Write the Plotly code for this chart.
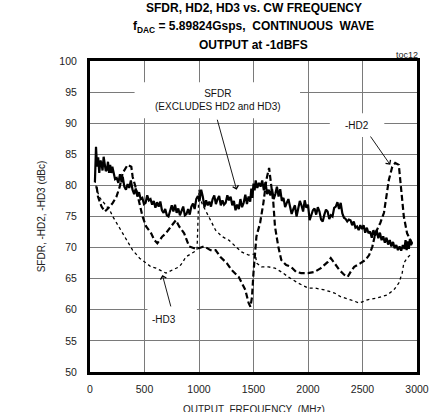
import plotly.graph_objects as go

# ---------------- data ----------------
sfdr_freq = [45, 55, 65, 75, 85, 95, 105, 115, 125, 135, 145, 155, 165, 175, 185, 195, 205, 215,
             230, 245, 260, 275, 290, 300, 315, 330, 345, 360, 375, 390, 405, 420, 435, 450, 465,
             480, 495, 510, 525, 540, 555, 570, 585, 600, 615, 630, 645, 660, 675, 690, 705, 720,
             735, 750, 765, 780, 795, 810, 825, 840, 855, 870, 885, 900, 915, 930, 945, 960, 975,
             990, 1005, 1020, 1035, 1050, 1065, 1080, 1095, 1110, 1125, 1140, 1155, 1170, 1185,
             1200, 1215, 1230, 1245, 1260, 1275, 1290, 1305, 1320, 1335, 1350, 1365, 1380, 1395,
             1410, 1425, 1440, 1455, 1470, 1480, 1490, 1500, 1510, 1520, 1535, 1550, 1565, 1580,
             1595, 1610, 1625, 1640, 1655, 1670, 1685, 1700, 1715, 1730, 1745, 1760, 1775, 1790,
             1805, 1820, 1835, 1850, 1865, 1880, 1895, 1910, 1925, 1940, 1955, 1970, 1985, 2000,
             2015, 2030, 2045, 2060, 2075, 2090, 2105, 2120, 2135, 2150, 2165, 2180, 2195, 2210,
             2225, 2240, 2255, 2270, 2285, 2300, 2315, 2330, 2345, 2360, 2375, 2390, 2405, 2420,
             2435, 2450, 2465, 2480, 2495, 2510, 2525, 2540, 2555, 2570, 2585, 2600, 2615, 2630,
             2645, 2660, 2675, 2690, 2705, 2720, 2735, 2750, 2765, 2780, 2795, 2810, 2825, 2840,
             2855, 2870, 2885, 2895, 2905, 2915, 2925, 2935, 2945, 2955]
sfdr_db = [80.5, 86.2, 83.0, 84.5, 82.0, 84.0, 83.6, 82.4, 84.6, 83.6, 82.3, 82.5, 83.8, 82.0, 83.3,
           82.0, 83.0, 82.2, 81.0, 81.2, 80.4, 81.8, 80.5, 81.4, 79.8, 79.3, 80.2, 79.6, 80.8, 79.3,
           78.6, 79.5, 78.2, 78.9, 77.8, 78.0, 77.0, 77.2, 78.4, 77.6, 77.8, 76.9, 77.5, 76.4, 77.3,
           76.6, 77.4, 76.0, 75.6, 76.2, 75.2, 75.0, 76.0, 76.8, 75.8, 76.9, 75.6, 76.3, 75.2, 75.8,
           76.6, 75.2, 75.4, 76.2, 75.3, 76.6, 77.1, 76.2, 77.8, 78.3, 77.5, 79.3, 78.2, 76.5, 77.6,
           76.8, 77.4, 76.6, 77.8, 78.4, 77.0, 77.8, 78.3, 76.8, 77.6, 76.9, 77.2, 78.4, 77.6, 78.2,
           76.8, 77.5, 76.0, 76.9, 76.2, 77.8, 76.5, 77.2, 78.5, 77.0, 78.2, 77.4, 79.5, 78.0, 80.3,
           79.2, 80.8, 79.6, 80.4, 79.8, 80.8, 79.2, 80.5, 78.6, 79.3, 78.4, 79.4, 77.8, 78.6, 79.8,
           78.2, 79.4, 77.5, 78.0, 76.5, 77.2, 77.8, 76.6, 75.4, 76.2, 76.8, 75.0, 76.2, 77.5, 76.8,
           75.8, 77.6, 76.4, 76.9, 74.4, 75.2, 76.0, 76.3, 75.3, 76.5, 75.8, 74.5, 74.2, 75.3, 76.1,
           75.8, 74.6, 75.2, 75.0, 76.4, 76.6, 77.3, 76.2, 77.2, 75.5, 74.8, 74.6, 74.2, 74.5, 74.4,
           73.6, 74.2, 73.2, 73.4, 72.8, 73.6, 73.0, 73.6, 72.4, 73.2, 72.3, 72.6, 71.6, 72.8, 71.9,
           72.8, 71.5, 72.4, 71.2, 71.8, 70.8, 71.6, 70.5, 71.2, 70.2, 70.9, 69.9, 70.4, 69.6, 70.2,
           69.5, 70.4, 69.8, 71.2, 69.6, 71.0, 69.8, 71.4, 70.4, 70.8]

hd2_freq = [61, 73, 106, 136, 182, 209, 243, 273, 300, 345, 379, 391, 425, 455, 482, 515, 561, 591,
            618, 664, 697, 743, 788, 818, 864, 909, 955, 1000, 1045, 1106, 1152, 1197, 1255, 1300,
            1364, 1425, 1455, 1472, 1486, 1500, 1515, 1527, 1561, 1591, 1618, 1643, 1664, 1682, 1697,
            1727, 1755, 1800, 1845, 1891, 1936, 2000, 2061, 2118, 2182, 2209, 2243, 2288, 2334, 2364,
            2391, 2424, 2482, 2527, 2561, 2591, 2618, 2664, 2697, 2709, 2742, 2773, 2800, 2833, 2845,
            2864, 2879, 2909, 2936, 2955]
hd2_db = [79.8, 78.2, 76.6, 75.8, 76.6, 77.2, 78.2, 79.8, 82.0, 83.3, 83.0, 81.4, 79.3, 77.2, 75.0,
          73.4, 72.3, 71.2, 70.7, 71.8, 72.3, 73.4, 74.4, 73.4, 72.3, 70.2, 69.9, 69.9, 70.2, 69.6,
          69.6, 68.5, 67.5, 66.4, 65.3, 63.2, 61.1, 60.5, 62.0, 66.0, 69.6, 71.8, 74.0, 77.2, 80.9,
          82.8, 79.8, 77.2, 73.4, 70.2, 68.0, 67.2, 66.9, 66.1, 65.9, 65.9, 66.1, 66.7, 67.7, 68.3,
          67.5, 66.4, 65.6, 65.3, 66.1, 66.9, 67.5, 68.0, 68.8, 70.2, 72.3, 74.0, 75.6, 77.2, 80.9,
          83.0, 83.6, 83.3, 80.9, 77.6, 75.0, 72.3, 71.2, 70.7]

hd3_freq = [45, 61, 91, 118, 152, 182, 209, 243, 288, 334, 391, 455, 515, 561, 606, 697, 755, 818,
            845, 879, 936, 982, 1000, 1008, 1030, 1061, 1106, 1152, 1209, 1273, 1334, 1391, 1455,
            1515, 1530, 1573, 1636, 1697, 1755, 1818, 1909, 2000, 2061, 2152, 2243, 2300, 2391, 2470,
            2545, 2636, 2727, 2788, 2833, 2864, 2879, 2909, 2936, 2955]
hd3_db = [80.9, 79.3, 78.0, 77.4, 76.8, 76.0, 75.0, 74.0, 72.6, 71.2, 69.6, 68.3, 67.5, 66.9, 66.7,
          65.9, 66.4, 66.9, 67.5, 68.5, 69.1, 69.6, 79.3, 78.0, 77.0, 76.0, 74.4, 72.8, 71.8, 71.2,
          70.2, 69.3, 68.8, 69.0, 67.5, 66.9, 66.9, 66.7, 66.1, 65.3, 64.3, 63.5, 63.5, 63.2, 62.7,
          62.1, 61.6, 61.1, 61.6, 61.9, 62.4, 63.2, 64.3, 65.9, 67.5, 68.3, 68.8, 69.1]

x_ticks = [0, 500, 1000, 1500, 2000, 2500, 3000]
y_ticks = [50, 55, 60, 65, 70, 75, 80, 85, 90, 95, 100]

FONT = "Liberation Sans, Arial, sans-serif"

fig = go.Figure()
fig.add_trace(go.Scatter(x=hd3_freq, y=hd3_db, mode="lines", name="-HD3",
                         line=dict(color="black", width=1.3, dash="dot")))
fig.add_trace(go.Scatter(x=hd2_freq, y=hd2_db, mode="lines", name="-HD2",
                         line=dict(color="black", width=2.2, dash="6px,3px")))
fig.add_trace(go.Scatter(x=sfdr_freq, y=sfdr_db, mode="lines", name="SFDR",
                         line=dict(color="black", width=2.2)))

# white boxes behind labels (hide gridlines)
boxes = [(409, 1927, 90.8, 96.6), (2200, 2700, 87.8, 91.6), (527, 982, 56.0, 61.9)]
for x0, x1, y0, y1 in boxes:
    fig.add_shape(type="rect", xref="x", yref="y", x0=x0, x1=x1, y0=y0, y1=y1,
                  fillcolor="white", line=dict(width=0), layer="above")

lab_font = dict(family=FONT, size=10, color="#111")
fig.add_annotation(x=1173, y=93.7, xref="x", yref="y", text="SFDR<br>(EXCLUDES HD2 and HD3)",
                   showarrow=False, font=lab_font)
fig.add_annotation(x=2445, y=89.7, xref="x", yref="y", text="-HD2", showarrow=False, font=lab_font)
fig.add_annotation(x=682, y=58.4, xref="x", yref="y", text="-HD3", showarrow=False, font=lab_font)

# arrows
arrows = [((1164, 90.8), (1345, 79.3)), ((2564, 88.1), (2755, 83.3)), ((745, 60.3), (664, 65.6))]
for (ax, ay), (tx, ty) in arrows:
    fig.add_annotation(x=tx, y=ty, ax=ax, ay=ay, xref="x", yref="y", axref="x", ayref="y",
                       text="", showarrow=True, arrowhead=4, arrowsize=1.3, arrowwidth=0.9,
                       arrowcolor="black")

# titles
tfont = dict(family=FONT, size=12, color="black")
titles = [("<b>SFDR, HD2, HD3 vs. CW FREQUENCY</b>", 8),
          ("<b>f<sub>DAC</sub> = 5.89824Gsps,  CONTINUOUS  WAVE</b>", 27),
          ("<b>OUTPUT at -1dBFS</b>", 45)]
for txt, py in titles:
    fig.add_annotation(x=0.5, y=1 + (61 - py) / 311, xref="paper", yref="paper", text=txt,
                       showarrow=False, font=tfont, xanchor="center", yanchor="middle")
fig.add_annotation(x=1.01, y=1 + (61 - 55) / 311, xref="paper", yref="paper", text="toc12",
                   showarrow=False, font=dict(family=FONT, size=9, color="#222"),
                   xanchor="right", yanchor="middle")
fig.add_annotation(x=0.5, y=-(409 - 372) / 311, xref="paper", yref="paper",
                   text="OUTPUT  FREQUENCY  (MHz)", showarrow=False,
                   font=dict(family=FONT, size=10, color="#222"), xanchor="center", yanchor="middle")

fig.update_layout(
    width=441, height=412,
    margin=dict(l=90, r=21, t=61, b=40),
    paper_bgcolor="white", plot_bgcolor="white",
    showlegend=False,
    font=dict(family=FONT, size=10, color="#222"),
)
fig.update_xaxes(range=[0, 3000], tickvals=x_ticks, ticks="", showgrid=True,
                 gridcolor="#7a7a7a", gridwidth=1.2, zeroline=False,
                 showline=True, mirror=True, linecolor="black", linewidth=3,
                 tickfont=dict(family=FONT, size=10.5, color="#222"), ticklabelstandoff=5)
fig.update_yaxes(range=[50, 100], tickvals=y_ticks, ticks="", showgrid=True,
                 gridcolor="#7a7a7a", gridwidth=1.2, zeroline=False,
                 showline=True, mirror=True, linecolor="black", linewidth=3,
                 tickfont=dict(family=FONT, size=10.5, color="#222"), ticklabelstandoff=8,
                 title=dict(text="SFDR, -HD2, -HD3 (dBc)", font=dict(family=FONT, size=10, color="#222"),
                            standoff=12))

fig.write_html("out.html", config={"displayModeBar": False},
               post_script="document.body.style.margin='0';")
